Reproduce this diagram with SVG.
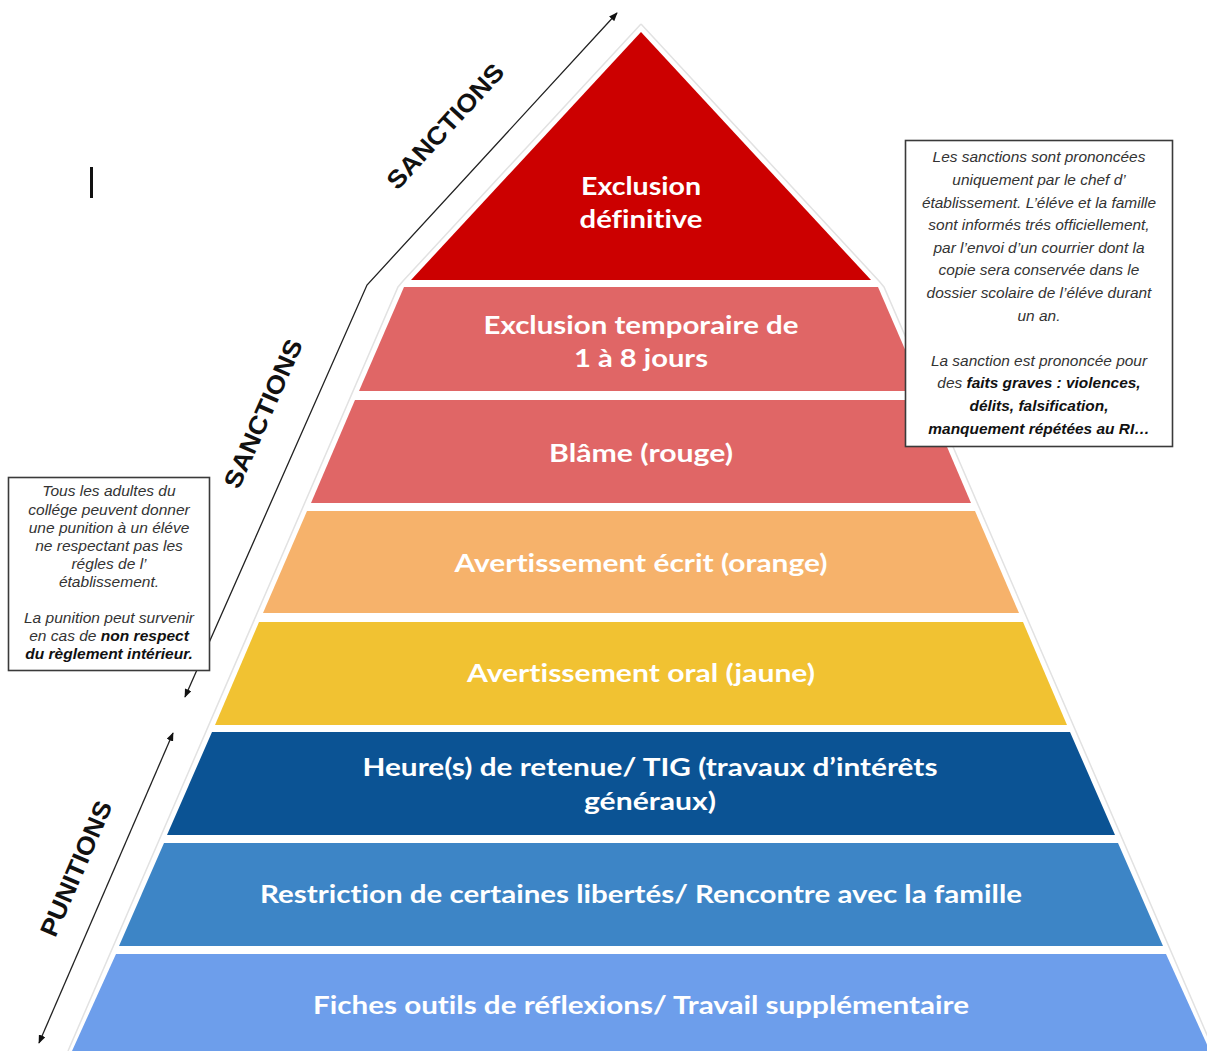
<svg xmlns="http://www.w3.org/2000/svg" width="1207" height="1051" viewBox="0 0 1207 1051">
<defs>
<marker id="ah" viewBox="0 0 10 8" refX="9" refY="4" markerWidth="9" markerHeight="7" markerUnits="userSpaceOnUse" orient="auto-start-reverse">
<path d="M0,0 L10,4 L0,8 z" fill="#111"/>
</marker>
<style>
.lvl text{font-family:Lato,"Open Sans","Liberation Sans",sans-serif;font-weight:bold;font-size:25px;fill:#fff;text-anchor:middle;font-variant-ligatures:none}
.conn{fill:none;stroke:#222;stroke-width:1.3}
.side{font-family:"Liberation Sans",Arial,sans-serif;font-size:25px;font-weight:bold;fill:#111;text-anchor:middle}
.box rect{fill:#fff;stroke:#3a3a3a;stroke-width:1.6}
.box text{font-family:"Liberation Sans",Arial,sans-serif;font-style:italic;fill:#333;text-anchor:middle}
.b{font-weight:bold;fill:#111}
</style>
</defs>
<rect width="1207" height="1051" fill="#fff"/>
<path d="M641,24 L403,281 L398,287 L68,1051 M641,24 L879,281 L884,287 L1214,1051" fill="none" stroke="#e2e2e2" stroke-width="1.5"/>
<g id="level1" class="lvl">
<polygon points="641,32 411,280 871,280" fill="#CC0000"/>
<text x="641" y="195" textLength="120" lengthAdjust="spacingAndGlyphs">Exclusion</text>
<text x="641" y="228" textLength="123" lengthAdjust="spacingAndGlyphs">définitive</text>
</g>
<g id="level2" class="lvl">
<polygon points="404,287 878,287 923,391 359,391" fill="#E06666"/>
<text x="641" y="334" textLength="315" lengthAdjust="spacingAndGlyphs">Exclusion temporaire de</text>
<text x="641" y="367" textLength="134" lengthAdjust="spacingAndGlyphs">1 à 8 jours</text>
</g>
<g id="level3" class="lvl">
<polygon points="355,400 927,400 971,503 311,503" fill="#E06666"/>
<text x="641" y="462" textLength="184" lengthAdjust="spacingAndGlyphs">Blâme (rouge)</text>
</g>
<g id="level4" class="lvl">
<polygon points="307,511 975,511 1019,613 263,613" fill="#F6B26B"/>
<text x="641" y="572" textLength="373" lengthAdjust="spacingAndGlyphs">Avertissement écrit (orange)</text>
</g>
<g id="level5" class="lvl">
<polygon points="259,622 1023,622 1067,725 215,725" fill="#F1C232"/>
<text x="641" y="682" textLength="348" lengthAdjust="spacingAndGlyphs">Avertissement oral (jaune)</text>
</g>
<g id="level6" class="lvl">
<polygon points="212,732 1070,732 1115,835 167,835" fill="#0B5394"/>
<text x="650" y="776" textLength="575" lengthAdjust="spacingAndGlyphs">Heure(s) de retenue/ TIG (travaux d’intérêts</text>
<text x="650" y="810" textLength="132" lengthAdjust="spacingAndGlyphs">généraux)</text>
</g>
<g id="level7" class="lvl">
<polygon points="164,843 1118,843 1163,946 119,946" fill="#3D85C6"/>
<text x="641" y="903" textLength="762" lengthAdjust="spacingAndGlyphs">Restriction de certaines libertés/ Rencontre avec la famille</text>
</g>
<g id="level8" class="lvl">
<polygon points="116,954 1166,954 1210,1051 72,1051" fill="#6D9EEB"/>
<text x="641" y="1014" textLength="656" lengthAdjust="spacingAndGlyphs">Fiches outils de réflexions/ Travail supplémentaire</text>
</g>
<g id="connectors">
<polyline class="conn" points="185,697 367,285 617,13" marker-start="url(#ah)" marker-end="url(#ah)"/>
<line class="conn" x1="173" y1="733" x2="39" y2="1043" marker-start="url(#ah)" marker-end="url(#ah)"/>
</g>
<g id="labels">
<text class="side" transform="translate(451.6,132) rotate(-47.4)" textLength="160" lengthAdjust="spacingAndGlyphs">SANCTIONS</text>
<text class="side" transform="translate(271,417) rotate(-66.2)" textLength="160" lengthAdjust="spacingAndGlyphs">SANCTIONS</text>
<text class="side" transform="translate(84,872) rotate(-66.6)" textLength="145" lengthAdjust="spacingAndGlyphs">PUNITIONS</text>
</g>
<rect id="cursor" x="90" y="167" width="3" height="31" fill="#111"/>
<g id="note-right" class="box">
<rect x="905.5" y="140.5" width="267" height="306"/>
<g transform="translate(1039,0) scale(1.065,1) translate(-1039,0)" font-size="14.5">
<text x="1039" y="162.5">Les sanctions sont prononcées</text>
<text x="1039" y="185.1">uniquement par le chef d’</text>
<text x="1039" y="207.7">établissement. L’éléve et la famille</text>
<text x="1039" y="230.3">sont informés trés officiellement,</text>
<text x="1039" y="252.9">par l’envoi d’un courrier dont la</text>
<text x="1039" y="275.5">copie sera conservée dans le</text>
<text x="1039" y="298.1">dossier scolaire de l’éléve durant</text>
<text x="1039" y="320.7">un an.</text>
<text x="1039" y="365.9">La sanction est prononcée pour</text>
<text x="1039" y="388.5">des <tspan class="b">faits graves : violences,</tspan></text>
<text x="1039" y="411.1"><tspan class="b">délits, falsification,</tspan></text>
<text x="1039" y="433.7"><tspan class="b">manquement répétées au RI…</tspan></text>
</g>
</g>
<g id="note-left" class="box">
<rect x="8.5" y="477.5" width="201" height="193"/>
<g transform="translate(109,0) scale(1.11,1) translate(-109,0)" font-size="14">
<text x="109" y="496.5">Tous les adultes du</text>
<text x="109" y="514.6">collége peuvent donner</text>
<text x="109" y="532.7">une punition à un éléve</text>
<text x="109" y="550.8">ne respectant pas les</text>
<text x="109" y="568.9">régles de l’</text>
<text x="109" y="587">établissement.</text>
<text x="109" y="623.2">La punition peut survenir</text>
<text x="109" y="641.3">en cas de <tspan class="b">non respect</tspan></text>
<text x="109" y="659.4"><tspan class="b">du règlement intérieur.</tspan></text>
</g>
</g>
</svg>
